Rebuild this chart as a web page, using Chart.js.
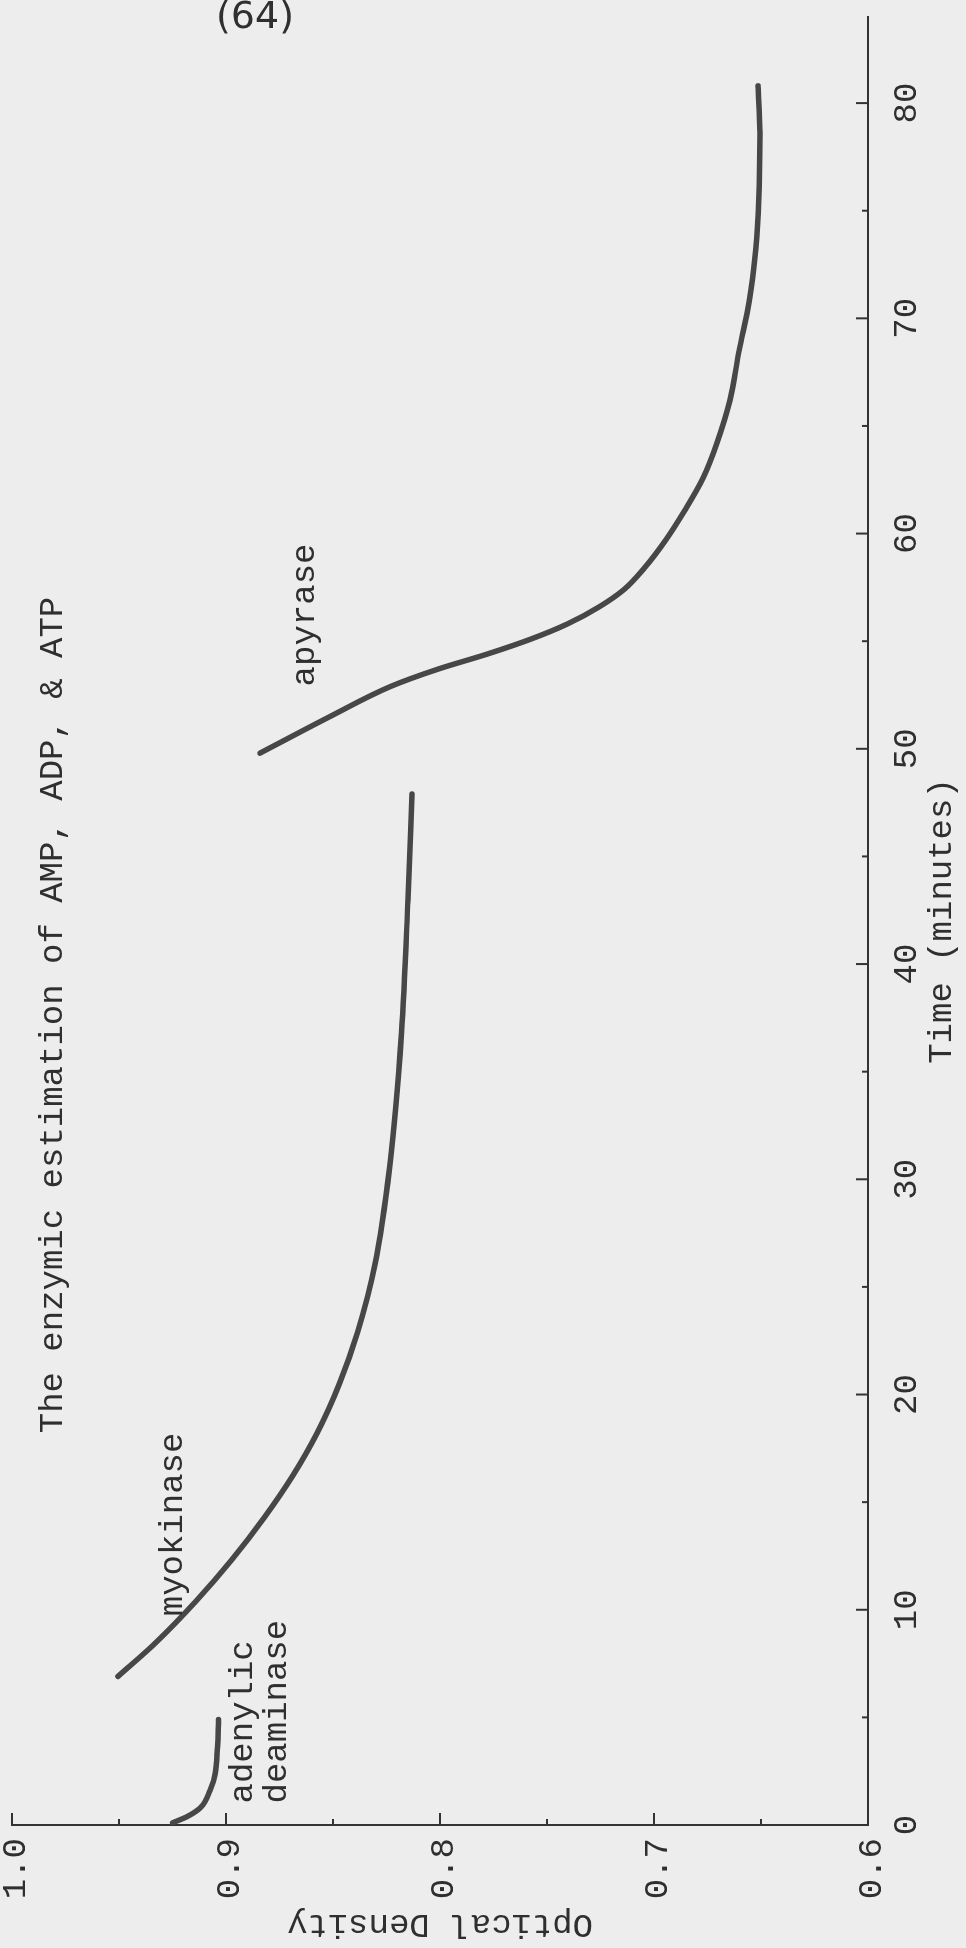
<!DOCTYPE html>
<html>
<head>
<meta charset="utf-8">
<script src="https://cdn.jsdelivr.net/npm/chart.js@4.4.0/dist/chart.umd.min.js"></script>
<style>
  html, body { margin: 0; padding: 0; background: #ededed; overflow: hidden; }
  /* the page is typed sideways, so draw landscape and turn it */
  #wrap { position: absolute; left: 0; top: 0; width: 1948px; height: 966px;
          transform-origin: 0 0; transform: translateY(1948px) rotate(-90deg); }
</style>
</head>
<body>
<div id="wrap"><canvas id="odChart" width="1948" height="966"></canvas></div>
<script>
// Time (minutes) against optical density
const adenylicTime = [0.1, 0.4, 0.8, 1.6, 2.4, 3.6, 4.9];
const adenylicOD = [0.925, 0.918, 0.912, 0.9075, 0.905, 0.904, 0.9035];

const myokinaseTime = [6.9, 8.5, 10.4, 12.3, 14.3, 16.2, 18.2, 20.5, 22.9, 26.0, 30.6, 36.8, 43.0, 47.9];
const myokinaseOD = [0.9505, 0.9325, 0.914, 0.8975, 0.882, 0.869, 0.8575, 0.847, 0.8385, 0.8305, 0.8235, 0.818, 0.815, 0.8131];

const apyraseTime = [49.8, 51.5, 52.9, 53.7, 54.4, 55.1, 55.8, 56.6, 57.4, 58.4, 59.7, 61.1, 62.6, 64.2, 66.2, 68.5, 70.8, 73.2, 75.5, 78.6, 80.8];
const apyraseOD = [0.8841, 0.8514, 0.823, 0.801, 0.778, 0.7575, 0.7405, 0.7255, 0.714, 0.7045, 0.6945, 0.6855, 0.677, 0.6706, 0.6645, 0.6602, 0.6555, 0.6525, 0.651, 0.6505, 0.6514];

// typed notes, placed at (time, OD)
const noteText = ['The enzymic estimation of AMP, ADP, & ATP', 'myokinase', 'adenylic', 'deaminase', 'apyrase'];
const noteTime = [18.2, 9.7, 1.0, 1.0, 52.9];
const noteOD = [0.981, 0.925, 0.892, 0.876, 0.863];

const ink = '#2f2f2f';
const curveColor = '#474747';
Chart.defaults.font.family = "'Liberation Mono', 'DejaVu Sans Mono', monospace";
Chart.defaults.font.size = 34;
Chart.defaults.color = ink;

const toPoints = (ts, vs) => ts.map((t, i) => ({x: t, y: vs[i]}));

const curve = (label, pts) => ({
  label: label,
  data: pts,
  showLine: true,
  borderColor: curveColor,
  backgroundColor: curveColor,
  borderWidth: 5.5,
  pointRadius: 0,
  cubicInterpolationMode: 'monotone',
  borderCapStyle: 'round'
});

const isMajorX = v => v % 10 === 0;
const isMajorY = v => Math.abs(v * 10 - Math.round(v * 10)) < 1e-6;

// short tick marks pointing into the plot
const innerTicks = {
  id: 'innerTicks',
  afterDatasetsDraw(chart) {
    const {ctx, scales: {x, y}} = chart;
    ctx.save();
    ctx.strokeStyle = '#333';
    ctx.lineWidth = 2;
    x.ticks.forEach(t => {
      const px = x.getPixelForValue(t.value);
      const len = isMajorX(t.value) ? 12 : 6;
      ctx.beginPath();
      ctx.moveTo(px, y.bottom);
      ctx.lineTo(px, y.bottom - len);
      ctx.stroke();
    });
    y.ticks.forEach(t => {
      const py = y.getPixelForValue(t.value);
      const len = isMajorY(t.value) ? 12 : 6;
      ctx.beginPath();
      ctx.moveTo(x.left, py);
      ctx.lineTo(x.left + len, py);
      ctx.stroke();
    });
    ctx.restore();
  }
};

const notes = {
  id: 'notes',
  afterDatasetsDraw(chart) {
    const {ctx, scales: {x, y}} = chart;
    ctx.save();
    ctx.fillStyle = ink;
    ctx.font = "34px 'Liberation Mono', 'DejaVu Sans Mono', monospace";
    ctx.textAlign = 'left';
    ctx.textBaseline = 'middle';
    noteText.forEach((txt, i) => {
      ctx.fillText(txt, x.getPixelForValue(noteTime[i]), y.getPixelForValue(noteOD[i]));
    });
    // page number, written upright on the portrait page
    ctx.translate(chart.width - 18, 255);
    ctx.rotate(Math.PI / 2);
    ctx.font = "38px 'DejaVu Sans', sans-serif";
    ctx.textAlign = 'center';
    ctx.fillText('(64)', 0, 0);
    ctx.restore();
  }
};

const ctx = document.getElementById('odChart').getContext('2d');

const odChart = new Chart(ctx, {
  type: 'scatter',
  data: {
    datasets: [
      curve('adenylic deaminase', toPoints(adenylicTime, adenylicOD)),
      curve('myokinase', toPoints(myokinaseTime, myokinaseOD)),
      curve('apyrase', toPoints(apyraseTime, apyraseOD))
    ]
  },
  options: {
    responsive: false,
    animation: false,
    layout: { padding: { top: 12, right: 17, left: 0, bottom: 0 } },
    scales: {
      x: {
        type: 'linear',
        min: 0,
        max: 84,
        afterBuildTicks: a => { a.ticks = a.ticks.filter(t => t.value % 5 === 0); },
        afterFit: s => { s.height = 98; s.paddingLeft = 0; s.paddingRight = 0; },
        grid: { display: false, drawTicks: false },
        border: { display: true, color: '#333', width: 2 },
        ticks: {
          stepSize: 5,
          padding: 19,
          autoSkip: false,
          maxRotation: 0,
          callback: v => isMajorX(v) ? String(v) : ''
        },
        title: { display: true, text: 'Time (minutes)', padding: { top: 4, bottom: 4 } }
      },
      y: {
        min: 0.6,
        max: 1.0,
        afterFit: s => { s.width = 123; s.paddingTop = 0; s.paddingBottom = 0; },
        grid: { display: false, drawTicks: false },
        border: { display: true, color: '#333', width: 2 },
        ticks: {
          stepSize: 0.05,
          padding: 13,
          autoSkip: false,
          labelOffset: 4,
          callback: v => isMajorY(v) ? v.toFixed(1) : ''
        },
        title: { display: true, text: 'Optical Density', padding: { top: 4, bottom: 4 } }
      }
    },
    plugins: {
      legend: { display: false },
      tooltip: { enabled: false }
    }
  },
  plugins: [innerTicks, notes]
});
</script>
</body>
</html>
